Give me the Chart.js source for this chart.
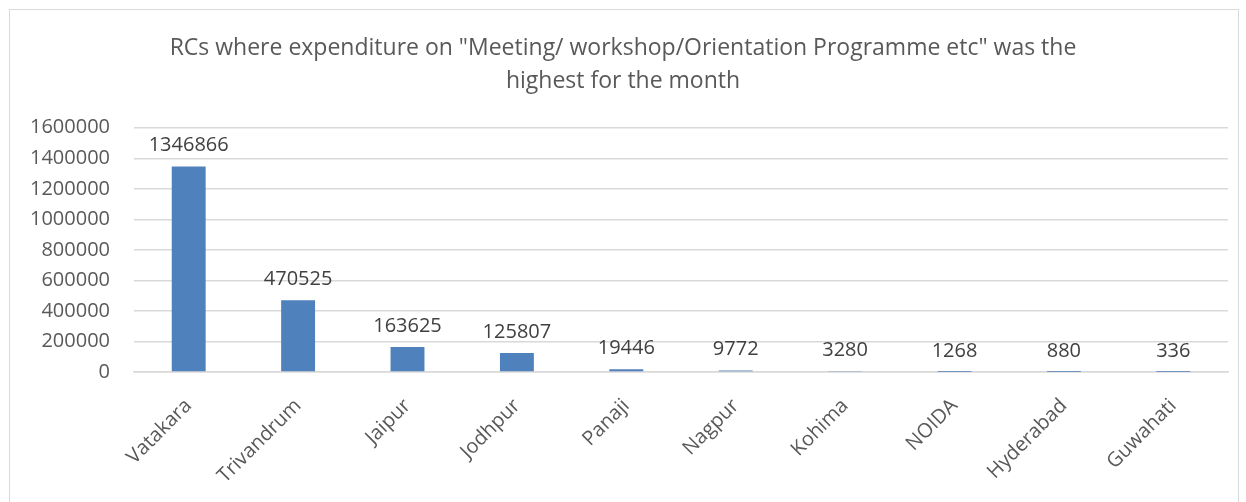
<!DOCTYPE html>
<html>
<head>
<meta charset="utf-8">
<script src="https://cdn.jsdelivr.net/npm/chart.js@4"></script>
<style>
  body { margin: 0; background: #fff; }
  #wrap { position: absolute; left: 0; top: 0; width: 1246px; height: 502px; }
  #frame { position: absolute; left: 9px; top: 9px; width: 1230px; height: 500px; border: 1px solid #d9d9d9; box-sizing: border-box; }
</style>
</head>
<body>
<div id="wrap">
  <div id="frame"></div>
  <canvas id="rcChart" width="1246" height="502"></canvas>
</div>
<script>
const categories = ['Vatakara', 'Trivandrum', 'Jaipur', 'Jodhpur', 'Panaji', 'Nagpur', 'Kohima', 'NOIDA', 'Hyderabad', 'Guwahati'];
const expenditure = [1346866, 470525, 163625, 125807, 19446, 9772, 3280, 1268, 880, 336];
const titleLines = ['RCs where expenditure on "Meeting/ workshop/Orientation Programme etc" was the', 'highest for the month'];

// draws the value above each bar
const valueLabels = {
    id: 'valueLabels',
    afterDatasetsDraw(chart) {
        const ctx = chart.ctx;
        const meta = chart.getDatasetMeta(0);
        ctx.save();
        ctx.font = '20px "Open Sans", sans-serif';
        ctx.fillStyle = '#404040';
        ctx.textAlign = 'center';
        ctx.textBaseline = 'bottom';
        meta.data.forEach((bar, i) => {
            ctx.fillText(String(expenditure[i]), bar.x, bar.y - 11);
        });
        ctx.restore();
    }
};

const ctx = document.getElementById('rcChart').getContext('2d');
new Chart(ctx, {
    type: 'bar',
    data: {
        labels: categories,
        datasets: [{
            data: expenditure,
            backgroundColor: '#4f81bd',
            borderWidth: 0,
            barPercentage: 0.62,
            categoryPercentage: 0.5
        }]
    },
    options: {
        responsive: false,
        animation: false,
        layout: {
            padding: { left: 18, right: 18, top: 32, bottom: 0 }
        },
        plugins: {
            legend: { display: false },
            tooltip: { enabled: false },
            title: {
                display: true,
                text: titleLines,
                color: '#595959',
                font: { size: 23, family: '"Open Sans", sans-serif', weight: 'normal', lineHeight: 1.43 },
                padding: { top: 0, bottom: 30 }
            }
        },
        scales: {
            y: {
                min: 0,
                max: 1600000,
                ticks: {
                    stepSize: 200000,
                    color: '#595959',
                    padding: 24,
                    font: { size: 20, family: '"Open Sans", sans-serif' },
                    callback: (v) => String(v)
                },
                grid: { color: '#d9d9d9', lineWidth: 1.5, drawTicks: false },
                border: { display: false },
                afterFit(scale) { scale.width = 116; }
            },
            x: {
                ticks: {
                    color: '#595959',
                    minRotation: 45,
                    maxRotation: 45,
                    padding: 14,
                    font: { size: 20, family: '"Open Sans", sans-serif' }
                },
                grid: { display: false },
                border: { color: '#d9d9d9', width: 1.5 }
            }
        }
    },
    plugins: [valueLabels]
});
</script>
</body>
</html>
